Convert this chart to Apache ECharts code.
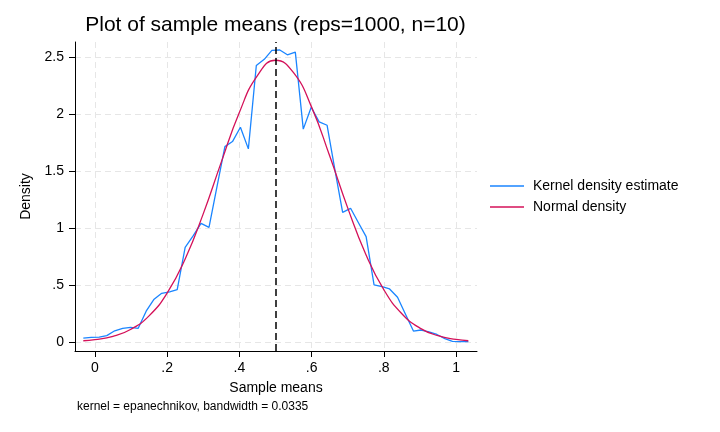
<!DOCTYPE html>
<html>
<head>
<meta charset="utf-8">
<script src="https://cdn.jsdelivr.net/npm/echarts@6/dist/echarts.min.js"></script>
<style>
html,body{margin:0;padding:0;background:#fff;}
#chart{width:720px;height:432px;}
</style>
</head>
<body>
<div id="chart"></div>
<script>
// Kernel density estimate (x = sample mean, y = density)
var kdeX = [-0.032,-0.010,0.012,0.033,0.055,0.077,0.099,0.120,0.142,0.164,0.185,0.207,0.228,0.250,0.272,0.294,0.316,0.338,0.360,0.381,0.403,0.425,0.447,0.469,0.490,0.512,0.533,0.555,0.577,0.599,0.621,0.643,0.664,0.686,0.708,0.729,0.751,0.773,0.795,0.816,0.838,0.860,0.882,0.903,0.925,0.947,0.969,0.990,1.012,1.034];
var kdeY = [0.033,0.040,0.043,0.056,0.098,0.120,0.128,0.120,0.270,0.375,0.427,0.440,0.460,0.830,0.930,1.040,1.005,1.360,1.713,1.757,1.883,1.693,2.424,2.478,2.556,2.560,2.518,2.541,1.866,2.058,1.930,1.900,1.520,1.137,1.172,1.050,0.924,0.500,0.485,0.465,0.392,0.244,0.096,0.105,0.088,0.066,0.030,0.006,0.004,0.004];
// Normal density
var normX = [-0.032,0.0,0.05,0.10,0.15,0.20,0.25,0.30,0.35,0.40,0.45,0.50,0.55,0.60,0.65,0.70,0.75,0.80,0.85,0.90,0.95,1.00,1.034];
var normY = [0.011,0.020,0.049,0.112,0.229,0.429,0.728,1.123,1.577,2.012,2.335,2.470,2.361,2.059,1.632,1.176,0.770,0.459,0.248,0.122,0.055,0.022,0.011];
var meanLine = 0.5;
var xTickValues = [0, 0.2, 0.4, 0.6, 0.8, 1];
var xTickLabels = ['0', '.2', '.4', '.6', '.8', '1'];
var yTickValues = [0, 0.5, 1, 1.5, 2, 2.5];
var yTickLabels = ['0', '.5', '1', '1.5', '2', '2.5'];
var seriesNames = ['Kernel density estimate', 'Normal density'];
var titleText = 'Plot of sample means (reps=1000, n=10)';
var xName = 'Sample means';
var yName = 'Density';
var noteText = 'kernel = epanechnikov, bandwidth = 0.0335';

function pairs(xs, ys) { return xs.map(function (x, i) { return [x, ys[i]]; }); }
function lab(vals, labels) {
  return function (v) {
    for (var i = 0; i < vals.length; i++) if (Math.abs(vals[i] - v) < 1e-9) return labels[i];
    return '';
  };
}
var FONT = 'Liberation Sans, Arial, Helvetica, sans-serif';
var chart = echarts.init(document.getElementById('chart'), null, {renderer: 'canvas'});
chart.setOption({
  backgroundColor: '#ffffff',
  animation: false,
  textStyle: {fontFamily: FONT, color: '#000'},
  legend: {
    orient: 'vertical', left: 490, top: 178, padding: 0, itemWidth: 34, itemHeight: 1.3, itemGap: 5,
    icon: 'rect',
    textStyle: {fontFamily: FONT, fontSize: 14, color: '#000', lineHeight: 16, padding: [0, 0, 0, 4]},
    data: seriesNames
  },
  grid: {left: 75, right: 243, top: 42, bottom: 81, containLabel: false},
  xAxis: {
    type: 'value', min: -0.055, max: 1.058,
    name: xName, nameLocation: 'middle', nameGap: 30,
    nameTextStyle: {fontFamily: FONT, fontSize: 14, color: '#000'},
    axisLine: {show: true, onZero: false, lineStyle: {color: '#000', width: 1}},
    axisTick: {show: true, length: 6, customValues: xTickValues, lineStyle: {color: '#000'}},
    axisLabel: {customValues: xTickValues, formatter: lab(xTickValues, xTickLabels), margin: 10, fontFamily: FONT, fontSize: 14, color: '#000'},
    splitLine: {show: true, lineStyle: {color: '#e6e6e6', type: [6, 4], width: 1}}
  },
  yAxis: {
    type: 'value', min: -0.079, max: 2.63,
    name: yName, nameLocation: 'middle', nameGap: 42, nameRotate: 90,
    nameTextStyle: {fontFamily: FONT, fontSize: 14, color: '#000'},
    axisLine: {show: true, onZero: false, lineStyle: {color: '#000', width: 1}},
    axisTick: {show: true, length: 6, customValues: yTickValues, lineStyle: {color: '#000'}},
    axisLabel: {customValues: yTickValues, formatter: lab(yTickValues, yTickLabels), margin: 11, fontFamily: FONT, fontSize: 14, color: '#000'},
    splitLine: {show: true, lineStyle: {color: '#e6e6e6', type: [6, 4], width: 1}}
  },
  graphic: [{
    type: 'text', x: 275.5, y: 25,
    style: {text: titleText, font: '21px ' + FONT, fill: '#000', textAlign: 'center', textVerticalAlign: 'middle'}
  }, {
    type: 'text', left: 77, top: 401,
    style: {text: noteText, font: '12px ' + FONT, fill: '#000'}
  }],
  series: [{
    name: seriesNames[0], type: 'line', data: pairs(kdeX, kdeY),
    symbol: 'none', smooth: false, color: '#1a85ff',
    lineStyle: {color: '#1a85ff', width: 1.3},
    markLine: {
      silent: true, symbol: 'none', label: {show: false},
      lineStyle: {color: '#000', type: [7, 4], width: 1.5},
      data: [{xAxis: meanLine}]
    },
    z: 2
  }, {
    name: seriesNames[1], type: 'line', data: pairs(normX, normY),
    symbol: 'none', smooth: true, color: '#d41159',
    lineStyle: {color: '#d41159', width: 1.3},
    z: 3
  }]
});
</script>
</body>
</html>
